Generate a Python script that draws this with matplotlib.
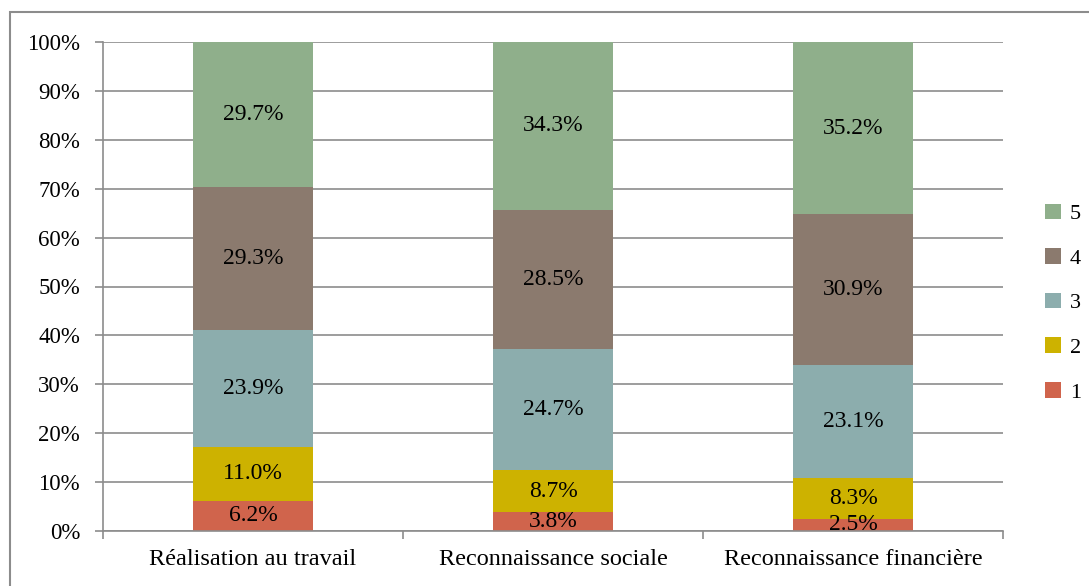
import numpy as np
import matplotlib.pyplot as plt
from matplotlib.patches import Rectangle

plt.rcParams['font.family'] = ['Liberation Serif', 'DejaVu Serif']

categories = ['Réalisation au travail', 'Reconnaissance sociale', 'Reconnaissance financière']
levels = ['1', '2', '3', '4', '5']
s1 = [6.2, 3.8, 2.5]
s2 = [11.0, 8.7, 8.3]
s3 = [23.9, 24.7, 23.1]
s4 = [29.3, 28.5, 30.9]
s5 = [29.7, 34.3, 35.2]
colors = ['#D0644C', '#CDB200', '#8CADAD', '#8B7A6E', '#8FAF8B']

data = np.array([s1, s2, s3, s4, s5])
pct = data / data.sum(axis=0) * 100

fig = plt.figure(figsize=(10.89, 5.86), dpi=100)
ax = fig.add_axes([103/1089, 55/586, 900/1089, 489/586])

# outer chart border
fig.patches.append(Rectangle((10/1089, -0.01), 1.1, (586-12)/586 + 0.01,
                             transform=fig.transFigure, fill=False,
                             edgecolor='#8c8c8c', linewidth=1.5))

x = np.arange(len(categories))
bottom = np.zeros(len(categories))
handles = []
for i in range(5):
    b = ax.bar(x, pct[i], 0.4, bottom=bottom, color=colors[i], label=levels[i], zorder=2)
    handles.append(b)
    for j in range(len(categories)):
        ax.text(x[j], bottom[j] + pct[i][j] / 2, '%.1f%%' % data[i][j],
                ha='center', va='center', fontsize=17, zorder=3)
    bottom += pct[i]

ax.set_xlim(-0.5, 2.5)
ax.set_ylim(0, 100)
ax.set_yticks(np.arange(0, 101, 10))
ax.set_yticklabels(['%d%%' % v for v in range(0, 101, 10)], fontsize=16.5)
ax.set_xticks(x)
ax.set_xticklabels(categories, fontsize=17.5)
ax.tick_params(axis='x', length=0, pad=13)
ax.set_xticks([-0.5, 0.5, 1.5, 2.5], minor=True)
ax.tick_params(axis='x', which='minor', length=6, color='#8c8c8c', width=1.2)
ax.tick_params(axis='y', length=6, color='#8c8c8c', width=1.2, pad=10.5)
ax.grid(axis='y', color='#8c8c8c', linewidth=1.2, zorder=0)
for s in ['top', 'right']:
    ax.spines[s].set_visible(False)
for s in ['left', 'bottom']:
    ax.spines[s].set_color('#8c8c8c')
    ax.spines[s].set_linewidth(1.2)

ax.legend(handles[::-1], levels[::-1], loc='center left', bbox_to_anchor=(1.025, 0.466),
          frameon=False, fontsize=16, handlelength=0.7, handleheight=0.7,
          labelspacing=1.08, handletextpad=0.4)

fig.savefig('out.png', dpi=100)
